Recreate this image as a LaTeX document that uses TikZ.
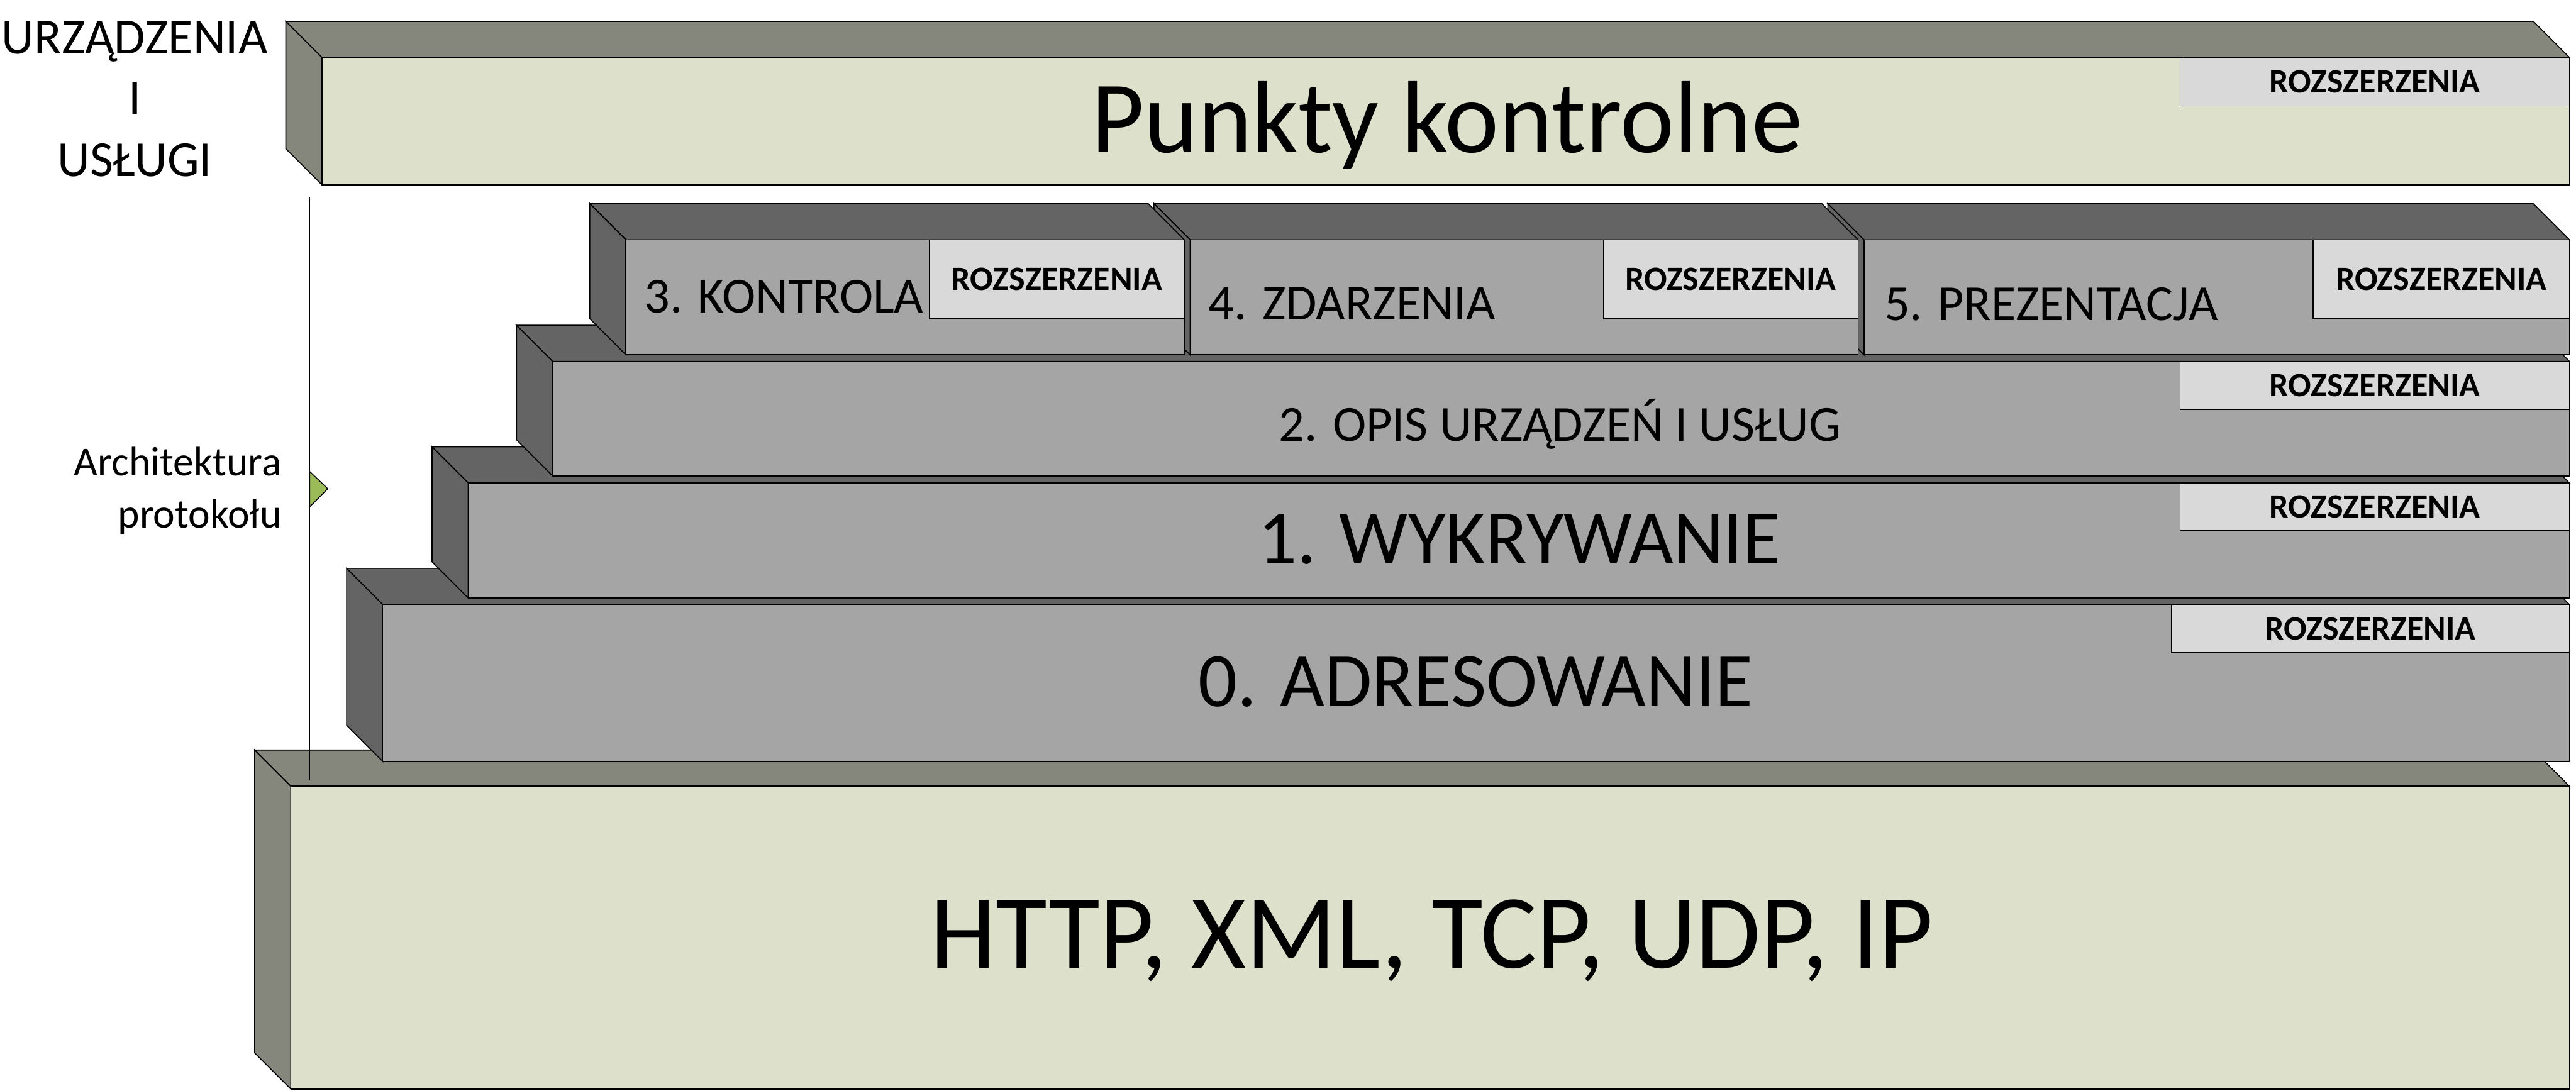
\documentclass[tikz,border=0pt]{standalone}
\usepackage{fontspec}
\setmainfont{Carlito}
\usepackage{tikz}

\definecolor{paleolive}{HTML}{DDE1CC}
\definecolor{olivegrey}{HTML}{85877C}
\definecolor{midgrey}{HTML}{A5A5A5}
\definecolor{darkgrey}{HTML}{646464}
\definecolor{lightgrey}{HTML}{D9D9D9}
\definecolor{leafgreen}{HTML}{9BBB59}

% slab: front top-left (#1,#2), front bottom-right (#3,#4), colour set #5 (g or d)
\newcommand{\slab}[5]{%
  \draw[#5side] (#1,#2) -- ++(-22,-22) -- ++({#3-#1},0) -- (#3,#2) -- cycle;
  \draw[#5side] (#1,#2) -- ++(-22,-22) -- ++(0,{#4-#2}) -- (#1,#4) -- cycle;
  \draw[#5face] (#1,#2) rectangle (#3,#4);}
% extension tab: name #1, corners (#2,#3) and (#4,#5)
\newcommand{\ext}[5]{%
  \draw[extbox] (#2,#3) rectangle (#4,#5);
  \node[exttext] (#1) at ({(#2+#4)/2},{(#3+#5)/2}) {ROZSZERZENIA};}

\begin{document}
\begin{tikzpicture}[x=0.02cm, y=-0.02cm, line width=0.35pt,
    gside/.style={draw=black, fill=olivegrey},
    gface/.style={draw=black, fill=paleolive},
    dside/.style={draw=black, fill=darkgrey},
    dface/.style={draw=black, fill=midgrey},
    extbox/.style={draw=black, fill=lightgrey},
    exttext/.style={font=\fontsize{11.8}{13}\selectfont\bfseries, inner sep=0pt},
    bigtext/.style={font=\fontsize{35.5}{42}\selectfont, inner sep=0pt},
    midtext/.style={font=\fontsize{26.7}{32}\selectfont, inner sep=0pt},
    smalltext/.style={font=\fontsize{17.5}{21}\selectfont, inner sep=0pt},
    archtext/.style={font=\fontsize{14.3}{17}\selectfont, inner sep=0pt}]
    \useasboundingbox (0,0) rectangle (1568,664);

    % base box
    \slab{177}{478.6}{1564}{663}{g}
    \coordinate (axtop) at (188.5,120);
    \coordinate (axbot) at (188.5,475);
    \draw (axtop) -- (axbot);
    \draw[fill=leafgreen, line width=0.3pt] (188.5,287) -- (199.5,297.5) -- (188.5,308.5) -- cycle;

    % protocol layers, bottom up
    \slab{233}{368}{1564}{463.5}{d}
    \slab{285}{294}{1564}{364}{d}
    \slab{336.4}{220}{1564}{289.7}{d}
    \slab{1134.6}{146}{1564}{216}{d}
    \slab{724.4}{146}{1131}{216}{d}
    \slab{381}{146}{721}{216}{d}

    % top box
    \slab{196}{35}{1564}{112.5}{g}

    % extensions
    \ext{ext6}{1327}{35}{1564}{64.5}
    \ext{ext2}{1327}{220}{1564}{249.3}
    \ext{ext1}{1327}{294}{1564}{323}
    \ext{ext0}{1321.6}{368}{1564}{397.3}
    \ext{ext3}{565.6}{146}{721}{194}
    \ext{ext4}{975.9}{146}{1131}{194}
    \ext{ext5}{1408}{146}{1564}{194}

    % labels
    \node[bigtext, anchor=base] (punkty) at (880.8,92.7) {Punkty kontrolne};
    \node[bigtext, font=\fontsize{36.5}{43}\selectfont, anchor=base] (http) at (871.5,589.5) {HTTP, XML, TCP, UDP, IP};
    \node[midtext, anchor=base] (adr) at (898.3,430) {0. ADRESOWANIE};
    \node[midtext, anchor=base] (wyk) at (924.7,343) {1. WYKRYWANIE};
    \node[smalltext, anchor=base] (opis) at (949.5,268.5) {2. OPIS URZĄDZEŃ I USŁUG};
    \node[smalltext, anchor=base west] (kontr) at (392,190.3) {3. KONTROLA};
    \node[smalltext, anchor=base west] (zdarz) at (735.4,194.7) {4. ZDARZENIA};
    \node[smalltext, anchor=base west] (prez) at (1146.6,194.9) {5. PREZENTACJA};

    \node[smalltext, anchor=base] (dev1) at (82,32.6) {URZĄDZENIA};
    \node[smalltext, anchor=base] (dev2) at (82,70) {I};
    \node[smalltext, anchor=base] (dev3) at (82,107.5) {USŁUGI};
    \node[archtext, anchor=base east] (arch1) at (171.6,289.7) {Architektura};
    \node[archtext, anchor=base east] (arch2) at (171.6,321.3) {protokołu};
\end{tikzpicture}
\end{document}
